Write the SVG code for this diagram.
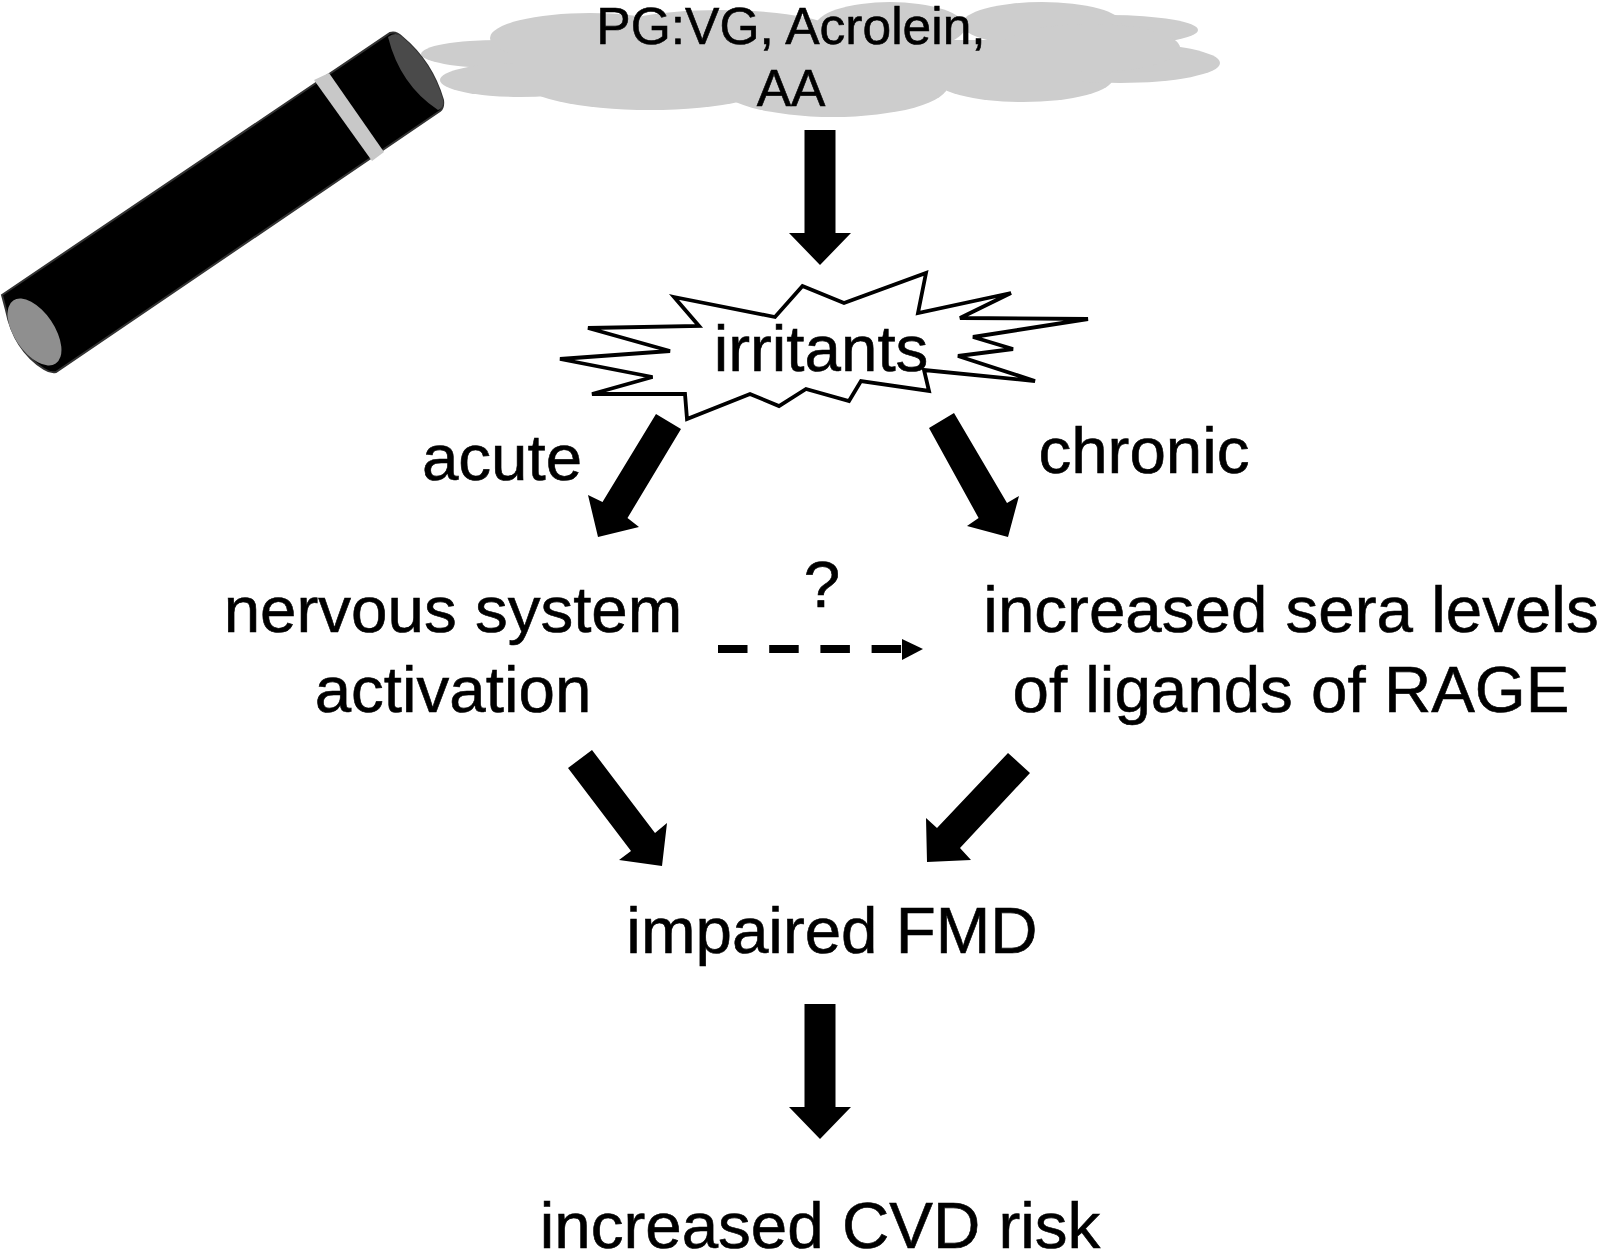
<svg xmlns="http://www.w3.org/2000/svg" width="1600" height="1251" viewBox="0 0 1600 1251">
<style>
text{font-family:"Liberation Sans",Arial,sans-serif;fill:#000;stroke:#000;stroke-width:.6;text-anchor:middle}
.t{font-size:65.5px}
.s{font-size:51.5px}
.a{fill:#000}
.c{fill:#cdcdcd}
</style>
<rect width="1600" height="1251" fill="#fff"/>
<g id="cloud">
<g class="c">
<ellipse cx="500" cy="54" rx="79" ry="14"/><ellipse cx="520" cy="80" rx="80" ry="17"/><ellipse cx="590" cy="38" rx="100" ry="25"/><ellipse cx="650" cy="80" rx="130" ry="30"/><ellipse cx="833" cy="85" rx="115" ry="32"/><ellipse cx="1023" cy="78" rx="90" ry="24"/><ellipse cx="1120" cy="63" rx="100" ry="20"/><ellipse cx="1110" cy="30" rx="88" ry="15"/><ellipse cx="1042" cy="24" rx="80" ry="22"/><ellipse cx="890" cy="27" rx="75" ry="25"/><ellipse cx="720" cy="35" rx="120" ry="25"/><ellipse cx="1090" cy="48" rx="90" ry="24"/><rect x="520" y="40" width="560" height="50"/>
</g>
<text class="s" x="791" y="44">PG:VG, Acrolein,</text>
<text class="s" x="791" y="106">AA</text>
</g>
<g id="device">
<path d="M2 295L390 33Q396 31 402 37Q432 62 443 100Q444 108 440 111L56 372Q50 373 44 369Q14 350 6 310Z" fill="#000" stroke="#333" stroke-width="2"/>
<path d="M388 37Q396 31 402 37Q432 62 443 100Q444 108 438 110Q400 85 388 37Z" fill="#4a4a4a"/>
<ellipse cx="34.500" cy="332" rx="20" ry="38" transform="rotate(-34 34.500 332)" fill="#8f8f8f"/>
<polygon points="314,80 329,73 384,152 372,161" fill="#c8c8c8"/>
</g>
<g id="irritants">
<polygon points="674,297 775,317 802.5,286 844,303 926,273 918,313 1011,293 960,318 1088,319 973,337 1013,349 958,356 1035,381 924,370 929,391 861,381 849,401 806,389 779,406 750,394 687,419 685,394 592,394 652.5,377 560,359 670,351 588,328 699,326" fill="#fff" stroke="#000" stroke-width="3.800"/>
<text class="t" x="821" y="371">irritants</text>
</g>
<g id="labels">
<text id="acute" class="t" x="502" y="480">acute</text>
<text id="chronic" class="t" x="1144" y="473">chronic</text>
<text id="question" class="t" x="822" y="607">?</text>
</g>
<g id="nervous"><text class="t" x="453" y="632">nervous system</text><text class="t" x="453" y="711.500">activation</text></g>
<g id="sera"><text class="t" x="1291" y="632">increased sera levels</text><text class="t" x="1291" y="711.500">of ligands of RAGE</text></g>
<g id="fmd"><text class="t" x="832" y="953">impaired FMD</text></g>
<g id="cvd"><text class="t" x="820" y="1248">increased CVD risk</text></g>
<g id="connectors">
<polygon class="a" points="804.5,130 835.5,130 835.5,233 851,233 820,265 789,233 804.5,233"/>
<polygon class="a" points="656,414 681,429 627.5,518 639,527 598,537 588,495 602.5,502"/>
<polygon class="a" points="954,413 929,428 978.6,518 967,526 1008,537 1019,496 1007,503"/>
<polygon class="a" points="592,750 568,768 631,851 619,860 662,866 667,823 655,833"/>
<polygon class="a" points="1008,753 1030,773 960,848 971,860 927,862 926,818 937,828"/>
<polygon class="a" points="804.5,1004 835.5,1004 835.5,1107 851,1107 820,1139 789,1107 804.5,1107"/>
<path d="M718 649H902" stroke="#000" stroke-width="8" stroke-dasharray="29.5 21.7" fill="none"/>
<polygon class="a" points="902,639 923,649 902,660"/>
</g>
</svg>
